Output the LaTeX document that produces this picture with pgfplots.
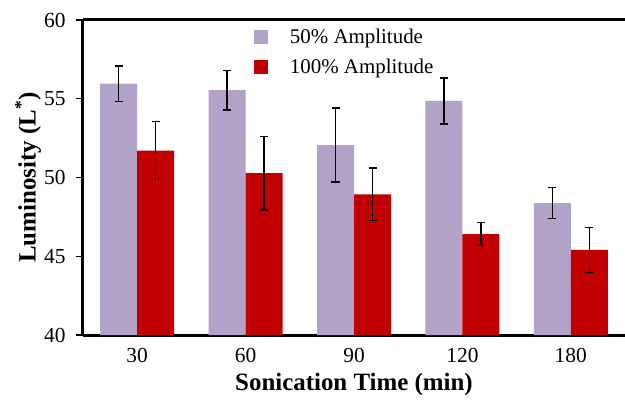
\documentclass[border=0pt]{standalone}
\usepackage{pgfplots}
\pgfplotsset{compat=1.18}
\usepackage{pgfplotstable}
\usepackage{fontspec}
\setmainfont{Liberation Serif}
\definecolor{lav}{HTML}{B3A2C7}
\definecolor{dred}{HTML}{C00000}
\pgfplotstableread{
x y e
0 55.96 1.13
1 55.54 1.26
2 52.06 2.34
3 54.86 1.47
4 48.38 0.98
}\tablefifty
\pgfplotstableread{
x y e
0 51.70 1.84
1 50.27 2.33
2 48.93 1.67
3 46.41 0.74
4 45.40 1.42
}\tablehundred
\begin{document}
\begin{tikzpicture}
\begin{axis}[
  at={(0,0)}, anchor=south west,
  scale only axis, width=542bp, height=315bp,
  xmin=-0.5, xmax=4.5, ymin=40, ymax=60,
  axis x line*=bottom, axis y line*=left,
  axis line style={line width=3bp, -},
  ytick={40,45,50,55,60},
  yticklabels={40,45,50,55,60},
  xtick={0,1,2,3,4},
  xticklabels={30,60,90,120,180},
  x tick style={draw=none},
  y tick style={line width=1.5bp, black},
  tick align=outside, major tick length=7bp,
  /pgf/number format/assume math mode=true,
  ticklabel style={font=\rmfamily\fontsize{21.5}{25}\selectfont},
  xticklabel style={yshift=-3bp},
  yticklabel style={xshift=-7bp},
  xlabel={\textbf{Sonication Time (min)}},
  ylabel={\textbf{Luminosity (L\textsuperscript{*})}},
  every axis x label/.style={at={(axis description cs:0.5,-0.1556)}, anchor=center, font=\fontsize{25}{30}\selectfont},
  every axis y label/.style={at={(axis description cs:-0.1015,0.5)}, anchor=center, rotate=90, font=\fontsize{25}{30}\selectfont},
  ybar=0pt, bar width=37bp,
  legend style={draw=none, fill=none, at={(axis description cs:0.315,0.978)}, anchor=north west,
    font=\fontsize{21}{25}\selectfont, row sep=10bp, inner sep=0pt},
  legend image code/.code={\fill[#1] (0bp,-7bp) rectangle (14bp,7bp); \path (34bp,0bp);},
  legend cell align=left,
  clip=false,
]
\addplot[fill=lav, draw=none, error bars/.cd, y dir=both, y explicit,
  error bar style={line width=1.5bp, black},
  error mark options={rotate=90, mark size=4bp, line width=1.5bp, black}]
  table[x=x, y=y, y error=e]{\tablefifty};
\addlegendentry{50\% Amplitude}
\addplot[fill=dred, draw=none, error bars/.cd, y dir=both, y explicit,
  error bar style={line width=1.5bp, black},
  error mark options={rotate=90, mark size=4bp, line width=1.5bp, black}]
  table[x=x, y=y, y error=e]{\tablehundred};
\addlegendentry{100\% Amplitude}
\draw[line width=3bp] (rel axis cs:0,1) -- (rel axis cs:1,1);
\end{axis}
\pgfresetboundingbox
\path (-83bp,-65bp) rectangle (542bp,335bp);
\end{tikzpicture}
\end{document}
